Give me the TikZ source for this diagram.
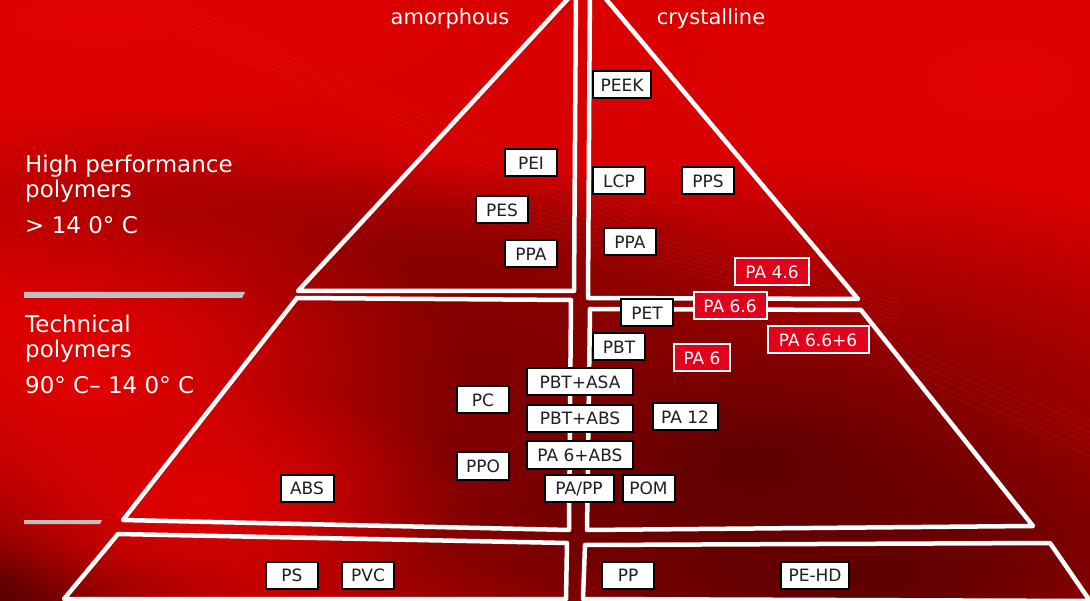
\documentclass[tikz,border=0pt]{standalone}
\usepackage{fontspec}
\setmainfont{DejaVu Sans}
\usetikzlibrary{positioning,fadings}
\definecolor{bgred}{RGB}{210,0,0}
\definecolor{deepred}{RGB}{92,0,0}
\definecolor{midred}{RGB}{125,0,0}
\definecolor{softred}{RGB}{160,0,0}
\definecolor{brightred}{RGB}{226,2,2}
\definecolor{boxred}{RGB}{226,0,26}
\definecolor{bargray}{RGB}{192,192,192}
\definecolor{boxtext}{RGB}{30,30,30}
\tikzfading[name=softspot, inner color=transparent!0, outer color=transparent!100]

\begin{document}
\begin{tikzpicture}[
  x=1pt, y=-1pt,
  box/.style={
    rectangle,
    draw=black,
    line width=2pt,
    fill=white,
    text=boxtext,
    minimum width=52pt,
    minimum height=27pt,
    inner sep=0pt,
    text height=12.5pt,
    text depth=0pt,
    font=\fontsize{17}{17}\selectfont
  },
  redbox/.style={
    box,
    fill=boxred,
    draw=white,
    text=white
  },
  wide/.style={minimum width=106pt},
  tier/.style={draw=white, line width=4.5pt, line join=round},
  streak/.style={draw=brightred!70!white, opacity=0.10, line width=1.2pt},
  sidetext/.style={text=white, font=\fontsize{23}{26}\selectfont, anchor=base west, inner sep=0pt},
  headtext/.style={text=white, font=\fontsize{21}{21}\selectfont, anchor=base, inner sep=0pt}
]
\useasboundingbox (0,0) rectangle (1090,601);

% Background
\begin{scope}
\clip (0,0) rectangle (1090,601);
\fill[bgred] (0,0) rectangle (1090,601);
\fill[brightred, path fading=softspot] (100,20) ellipse (700 and 200);
\fill[brightred, path fading=softspot] (1000,80) ellipse (600 and 320);
\fill[softred, path fading=softspot] (180,220) ellipse (300 and 110);
\fill[softred, path fading=softspot] (430,260) ellipse (320 and 100);
\fill[deepred, path fading=softspot] (740,460) ellipse (680 and 300);
\fill[midred, path fading=softspot] (430,380) ellipse (380 and 220);
\fill[deepred, path fading=softspot] (860,575) ellipse (480 and 160);
\fill[deepred, path fading=softspot] (0,601) ellipse (260 and 280);
\fill[brightred, path fading=softspot] (90,380) ellipse (380 and 200);
\fill[brightred, path fading=softspot] (200,500) ellipse (260 and 120);
\foreach \k in {0,...,6} {
  \draw[streak] (160,-5+5*\k) -- (640,205+5*\k);
  \draw[streak] (470,190+5*\k) -- (900,300+4*\k);
  \draw[streak] (880,330+6*\k) -- (1090,420+6*\k);
}

% Pyramid tiers
\draw[tier] (576,-10) -- (574,291) -- (298,291) -- cycle;
\draw[tier] (297,298) -- (571,300) -- (569,530) -- (123,520) -- cycle;
\draw[tier] (118,534) -- (567,543) -- (566,599) -- (64,599) -- cycle;
\draw[tier] (590,-20) -- (858,299) -- (588,298) -- cycle;
\draw[tier] (590,309) -- (861,310) -- (1033,526) -- (587,530) -- cycle;
\draw[tier] (585,545) -- (1050,543) -- (1090,601) -- (583,599) -- cycle;
\end{scope}

% Side labels
\fill[bargray] (24,292) -- (245,292) -- (242,298) -- (24,298) -- cycle;
\fill[bargray] (24,520) -- (102,520) -- (100,524) -- (24,524) -- cycle;
\node[headtext] (amorph) at (450,25) {amorphous};
\node[headtext] (cryst) at (711,25) {crystalline};
\node[sidetext] (hpone) at (25,173) {High performance};
\node[sidetext] (hptwo) at (25,198) {polymers};
\node[sidetext] (hptemp) at (25,234) {> 14 0° C};
\node[sidetext] (techone) at (25,333) {Technical};
\node[sidetext] (techtwo) at (25,358) {polymers};
\node[sidetext] (techtemp) at (25,394) {90° C– 14 0° C};

% Tier 1: high performance
\node[box, minimum width=58pt] (peek) at (622,85) {PEEK};
\node[box] (pei) at (531,163) {PEI};
\node[box] (lcp) at (619,181) {LCP};
\node[box] (pps) at (708,181) {PPS};
\node[box] (pes) at (502,210) {PES};
\node[box] (ppaamo) at (531,254) {PPA};
\node[box] (ppacry) at (630,242) {PPA};
\node[redbox, minimum width=74pt] (pafoursix) at (772,272) {PA 4.6};

% Tier 2: technical
\node[redbox, minimum width=73pt] (pasixsix) at (730,306) {PA 6.6};
\node[redbox, minimum width=101pt] (pasixsixsix) at (818,340) {PA 6.6+6};
\node[redbox, minimum width=56pt] (pasix) at (702,358) {PA 6};
\node[box] (pet) at (647,313) {PET};
\node[box] (pbt) at (619,347) {PBT};
\node[box, wide] (pbtasa) at (580,382) {PBT+ASA};
\node[box, wide, below=7.5pt of pbtasa] (pbtabs) {PBT+ABS};
\node[box, wide, below=7.5pt of pbtabs] (pasixabs) {PA 6+ABS};
\node[box] (pc) at (483,400) {PC};
\node[box, minimum width=65pt] (patwelve) at (685,417) {PA 12};
\node[box] (ppo) at (483,466) {PPO};
\node[box, minimum width=69pt] (papp) at (579,488) {PA/PP};
\node[box, right=7pt of papp] (pom) {POM};
\node[box, minimum width=53pt] (abs) at (307,488) {ABS};

% Tier 3: standard
\node[box] (ps) at (292,575) {PS};
\node[box, right=22pt of ps] (pvc) {PVC};
\node[box] (pp) at (628,575) {PP};
\node[box, minimum width=68pt] (pehd) at (815,575) {PE-HD};

\end{tikzpicture}
\end{document}
